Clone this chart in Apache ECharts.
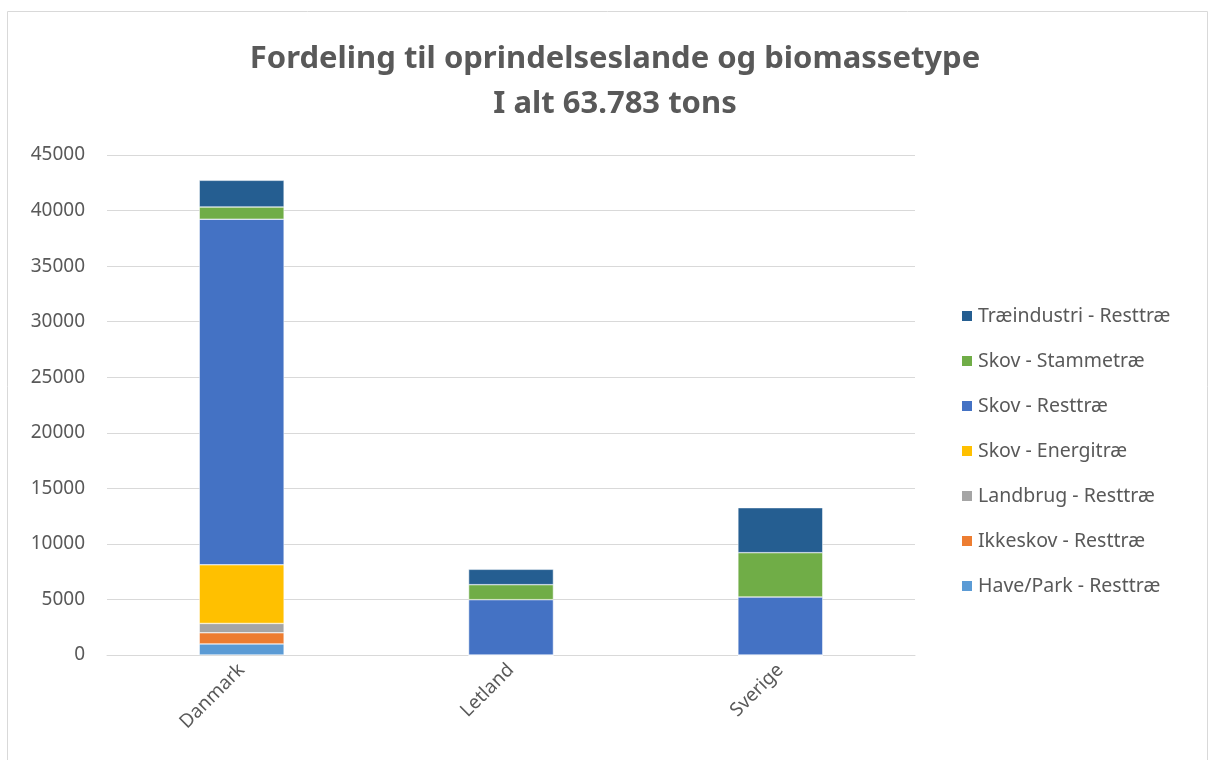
<!DOCTYPE html>
<html>
<head>
<meta charset="utf-8">
<script src="https://cdn.jsdelivr.net/npm/echarts@6/dist/echarts.min.js"></script>
<style>
  html, body { margin: 0; padding: 0; background: #fff; }
  #chart { width: 1209px; height: 760px; }
</style>
</head>
<body>
<div id="chart"></div>
<script>
  // lande og værdier (tons)
  var countries = ['Danmark', 'Letland', 'Sverige'];
  var haveParkResttrae = [1000, 0, 0];
  var ikkeskovResttrae = [1000, 0, 0];
  var landbrugResttrae = [840, 0, 0];
  var skovEnergitrae = [5280, 0, 0];
  var skovResttrae = [31100, 4980, 5220];
  var skovStammetrae = [1100, 1350, 3990];
  var traeindustriResttrae = [2400, 1380, 4050];

  var seriesNames = ['Have/Park - Resttræ', 'Ikkeskov - Resttræ', 'Landbrug - Resttræ',
    'Skov - Energitræ', 'Skov - Resttræ', 'Skov - Stammetræ', 'Træindustri - Resttræ'];
  var seriesData = [haveParkResttrae, ikkeskovResttrae, landbrugResttrae,
    skovEnergitrae, skovResttrae, skovStammetrae, traeindustriResttrae];
  var colors = ['#5B9BD5', '#ED7D31', '#A5A5A5', '#FFC000', '#4472C4', '#70AD47', '#255E91'];

  var font = '"Noto Sans", sans-serif';
  var textColor = '#595959';

  var chart = echarts.init(document.getElementById('chart'));
  var series = seriesNames.map(function (name, i) {
    return {
      name: name,
      type: 'bar',
      stack: 'total',
      barWidth: '31.5%',
      data: seriesData[i],
      itemStyle: {color: colors[i], borderColor: '#fff', borderWidth: 0.5},
    };
  });

  var option = {
    animation: false,
    textStyle: {fontFamily: font},
    title: {
      text: 'Fordeling til oprindelseslande og biomassetype\nI alt 63.783 tons',
      left: 610,
      textAlign: 'center',
      top: 32,
      textStyle: {fontSize: 31, fontWeight: 'bold', color: textColor, lineHeight: 45, fontFamily: font},
    },
    legend: {
      data: seriesNames.slice().reverse(),
      orient: 'vertical',
      left: 955,
      top: 301,
      itemWidth: 12,
      itemHeight: 12,
      itemGap: 25,
      icon: 'rect',
      textStyle: {fontSize: 19.5, color: textColor, lineHeight: 20, fontFamily: font},
    },
    grid: {left: 107, right: 294, top: 155, bottom: 105},
    xAxis: {
      type: 'category',
      data: countries,
      axisLine: {lineStyle: {color: '#d9d9d9'}},
      axisTick: {show: false},
      axisLabel: {rotate: 45, fontSize: 19, color: textColor, margin: 12},
    },
    yAxis: {
      type: 'value',
      min: 0,
      max: 45000,
      interval: 5000,
      axisLine: {show: false},
      axisTick: {show: false},
      splitLine: {lineStyle: {color: '#d9d9d9', width: 1}},
      axisLabel: {fontSize: 19, color: textColor, margin: 22, formatter: function (v) { return String(v); }},
    },
    graphic: [{
      type: 'rect',
      shape: {x: 7.5, y: 11.5, width: 1200, height: 760},
      style: {fill: 'none', stroke: '#d9d9d9', lineWidth: 1},
      silent: true,
    }],
    series: series,
  };
  chart.setOption(option);
</script>
</body>
</html>
